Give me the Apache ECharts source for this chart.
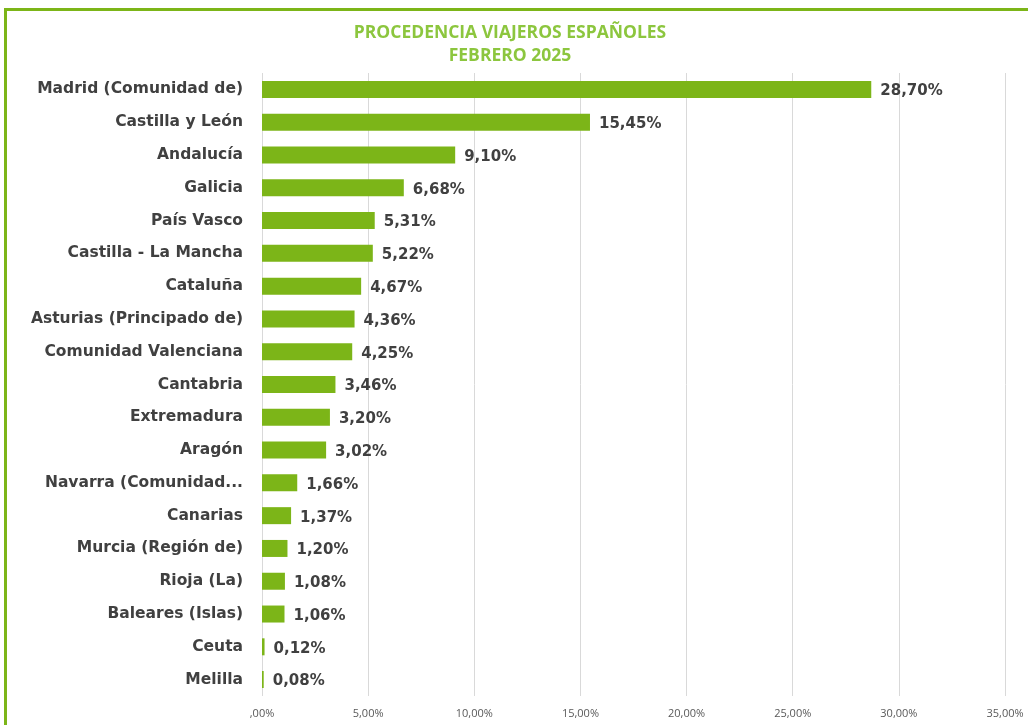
<!DOCTYPE html>
<html>
<head>
<meta charset="utf-8">
<script src="https://cdn.jsdelivr.net/npm/echarts@6/dist/echarts.min.js"></script>
<style>
  html, body { margin: 0; padding: 0; background: #fff; }
  #chart { width: 1028px; height: 725px; }
</style>
</head>
<body>
<div id="chart"></div>
<script>
  const regions = [
    'Madrid (Comunidad de)', 'Castilla y León', 'Andalucía', 'Galicia', 'País Vasco',
    'Castilla - La Mancha', 'Cataluña', 'Asturias (Principado de)', 'Comunidad Valenciana',
    'Cantabria', 'Extremadura', 'Aragón', 'Navarra (Comunidad Foral de)', 'Canarias',
    'Murcia (Región de)', 'Rioja (La)', 'Baleares (Islas)', 'Ceuta', 'Melilla'
  ]
  const shares = [28.70, 15.45, 9.10, 6.68, 5.31, 5.22, 4.67, 4.36, 4.25, 3.46, 3.20, 3.02, 1.66, 1.37, 1.20, 1.08, 1.06, 0.12, 0.08]
  const xTicks = [0, 5, 10, 15, 20, 25, 30, 35]

  const green = '#7cb518'
  const fmt = v => v.toFixed(2).replace('.', ',') + '%'

  const chart = echarts.init(document.getElementById('chart'))
  chart.setOption({
    animation: false,
    title: {
      text: 'PROCEDENCIA VIAJEROS ESPAÑOLES\nFEBRERO 2025',
      left: 505,
      textAlign: 'center',
      top: 17,
      textStyle: {
        color: '#8cc63e',
        fontSize: 17.5,
        fontWeight: 'bold',
        fontFamily: 'Open Sans',
        lineHeight: 23
      }
    },
    graphic: [{
      type: 'rect',
      shape: { x: 5.5, y: 9.5, width: 1040, height: 800 },
      style: { fill: 'none', stroke: green, lineWidth: 3 },
      silent: true
    }],
    grid: {
      left: 262,
      right: 23,
      top: 73,
      bottom: 29
    },
    xAxis: {
      type: 'value',
      min: xTicks[0],
      max: xTicks[xTicks.length - 1],
      interval: xTicks[1] - xTicks[0],
      axisLine: { show: false },
      axisTick: { show: false },
      splitLine: { lineStyle: { color: '#d9d9d9', width: 1 } },
      axisLabel: {
        color: '#595959',
        fontSize: 11,
        fontFamily: 'Open Sans',
        margin: 12,
        formatter: v => v === 0 ? ',00%' : fmt(v)
      }
    },
    yAxis: {
      type: 'category',
      inverse: true,
      data: regions,
      axisLine: { show: false },
      axisTick: { show: false },
      axisLabel: {
        color: '#404040',
        fontSize: 15.5,
        fontWeight: 'bold',
        fontFamily: 'DejaVu Sans',
        margin: 19,
        padding: [3, 0, 0, 0],
        // long names are cut the way the spreadsheet does it
        formatter: v => v.length > 25 ? v.slice(0, 18) + '...' : v
      }
    },
    series: [{
      type: 'bar',
      data: shares,
      barWidth: 17,
      itemStyle: { color: green },
      label: {
        show: true,
        position: 'right',
        distance: 9,
        offset: [0, 2],
        color: '#404040',
        fontSize: 15,
        fontWeight: 'bold',
        fontFamily: 'DejaVu Sans',
        formatter: p => fmt(p.value)
      }
    }]
  })
</script>
</body>
</html>
